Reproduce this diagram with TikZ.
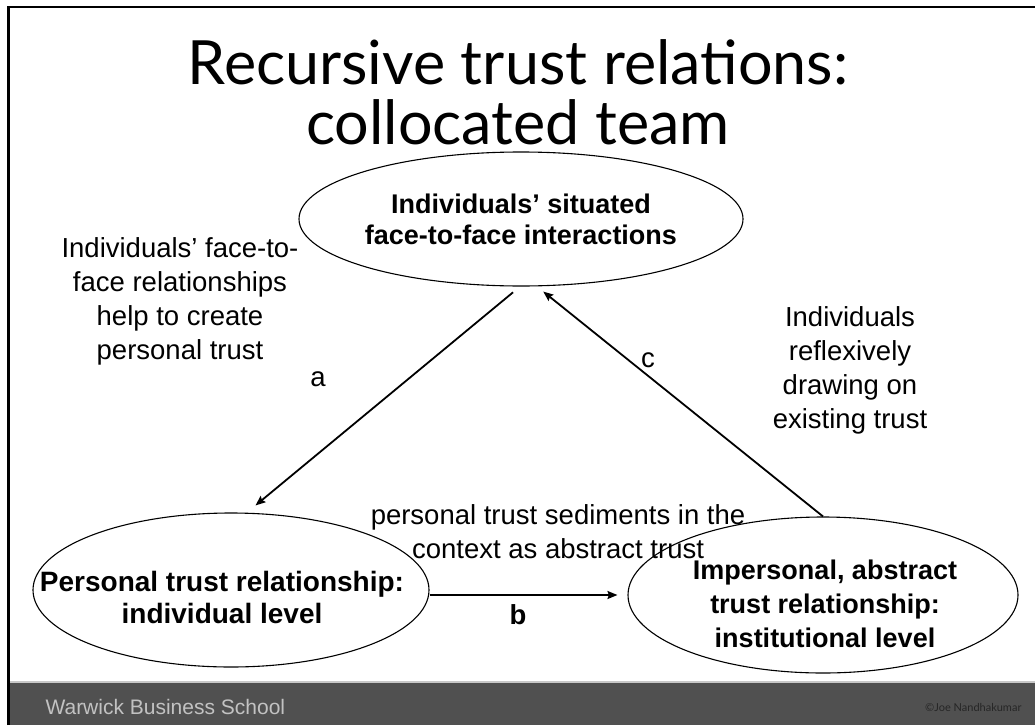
\documentclass[tikz,border=0pt]{standalone}
\usepackage{fontspec}
\setmainfont{Liberation Sans}
\newfontfamily\titlefont{Lato}
\usetikzlibrary{shapes.geometric,arrows.meta}
\definecolor{barGrey}{HTML}{505050}
\definecolor{edgeGrey}{HTML}{C8C8C8}
\definecolor{footGrey}{HTML}{C2C2C2}

\begin{document}
\begin{tikzpicture}[x=1pt,y=-1pt,
  bubble/.style={ellipse,draw,line width=1.1pt,inner sep=0pt},
  txt/.style={align=center,font=\fontsize{27.5}{34}\selectfont},
  btxt/.style={align=center,font=\bfseries\fontsize{27}{31}\selectfont},
  conn/.style={line width=1.8pt,-{Stealth[length=10pt,width=8pt,inset=1.5pt]}}]
  \useasboundingbox (0,0) rectangle (1035,725);
  % slide frame and footer bar
  \fill[barGrey] (10,683) rectangle (1035,725);
  \draw[edgeGrey,line width=1.5pt] (10,682) -- (1035,682);
  \draw[line width=2.5pt] (8.3,725) -- (8.3,7.2) -- (1035,7.2);
  \node[anchor=west,text=footGrey,font=\fontsize{21}{21}\selectfont] (school) at (42,707) {Warwick Business School};
  \node[anchor=east,text=black!85,font=\titlefont\fontsize{11}{11}\selectfont] (owner) at (1025,707) {©Joe Nandhakumar};

  \node[align=center,font=\titlefont\fontsize{61}{60}\selectfont] (title) at (518,92) {Recursive trust relations:\\collocated team};

  % the three levels
  \node[bubble,minimum width=444pt,minimum height=134pt] (inter) at (521,219) {};
  \node[btxt] (interlbl) at (inter) {Individuals’ situated\\face-to-face interactions};
  \node[bubble,minimum width=396pt,minimum height=154pt] (pers) at (231,590) {};
  \node[btxt,font=\bfseries\fontsize{28}{32}\selectfont] (perslbl) at (222,597) {Personal trust relationship:\\individual level};
  \node[bubble,minimum width=390pt,minimum height=156pt] (inst) at (823,595) {};
  \node[btxt,font=\bfseries\fontsize{27}{34}\selectfont] (instlbl) at (825,604) {Impersonal, abstract\\trust relationship:\\institutional level};

  % a, b, c
  \draw[conn,shorten <=9pt,shorten >=11pt] ([xshift=-1pt]inter.south) -- ([xshift=16pt]pers.north);
  \draw[conn,shorten >=10pt] (pers.east |- inst.west) -- (inst.west);
  \draw[conn,shorten >=8pt] (inst.north) -- ([xshift=16pt]inter.south);

  \node[txt] (a) at (318,379) {a};
  \node[txt,font=\bfseries\fontsize{27.5}{34}\selectfont] (b) at (518,615) {b};
  \node[txt] (c) at (648,360) {c};

  \node[txt] (create) at (180,301) {Individuals’ face-to-\\face relationships\\help to create\\personal trust};
  \node[txt] (reflex) at (850,370) {Individuals\\reflexively\\drawing on\\existing trust};
  \node[txt] (sediment) at (558,532) {personal trust sediments in the\\context as abstract trust};
\end{tikzpicture}
\end{document}
